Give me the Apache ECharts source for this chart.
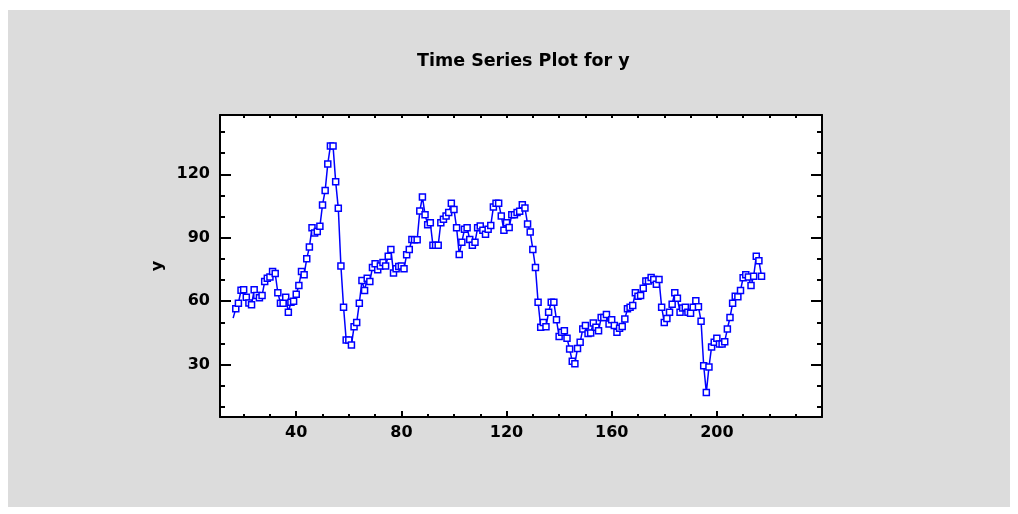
<!DOCTYPE html>
<html>
<head>
<meta charset="utf-8">
<script src="https://cdn.jsdelivr.net/npm/echarts@6/dist/echarts.min.js"></script>
<style>
  html, body { margin: 0; padding: 0; background: #ffffff; }
  #panel { position: absolute; left: 8px; top: 10px; width: 1002px; height: 497px; background: #dcdcdc; }
  #chart { position: absolute; left: 0; top: 0; width: 1018px; height: 514px; }
</style>
</head>
<body>
<div id="panel"></div>
<div id="chart"></div>
<script>
// ---- data ----
const titleText = 'Time Series Plot for y';
const yAxisName = 'y';
const xStart = 16;
const yValues = [
  52, 56.5, 59.1, 65.2, 65.4, 61.9, 59.2, 58.3, 65.4, 62.7,
  61.6, 62.7, 69.3, 70.9, 71.4, 74.1, 73.1, 64.0, 59.1, 59.1,
  61.9, 54.8, 59.5, 60.0,
  63.3, 67.4, 74.1, 72.5, 80.1, 85.6, 94.7, 92.2, 93.0, 95.4,
  105.5, 112.3, 124.9, 133.4, 133.4, 116.5, 103.9, 76.6, 57.2, 41.7,
  41.7, 39.3, 48.0, 50.0, 59.1, 69.8, 65.1,
  70.9, 69.3, 76.0, 77.7, 74.9, 76.6, 78.3, 76.6, 81.3, 84.5,
  73.4, 75.3, 76.4, 76.6, 75.3, 82.0, 84.5, 89.2, 89.0, 89.0,
  102.6, 109.3, 100.9, 96.2, 97.1, 86.4,
  86.4, 86.4, 97.1, 98.7, 100.3, 101.9, 106.3, 103.4, 94.7, 82.1,
  87.9, 94.0, 94.7, 89.2, 86.4, 87.9, 94.7, 95.5, 93.5, 91.7,
  94.0, 95.8, 104.5, 106.3, 106.3, 100.3, 93.5,
  97.1, 94.9, 100.9, 100.9, 101.9, 102.5, 105.6, 104.0, 96.5, 92.7,
  84.5, 76.0, 59.5, 47.7, 50.0, 48.0, 54.8, 59.5, 59.5, 51.2,
  43.3, 45.3, 46.1, 42.5, 37.4, 31.6,
  30.5, 37.7, 40.6, 46.9, 48.5, 44.7, 45.0, 49.7, 47.7, 46.0,
  52.3, 52.3, 53.7, 49.3, 51.2, 48.5, 45.3, 47.2, 48.1, 51.6,
  56.4, 57.2, 58.0, 64.0, 62.4,
  62.7, 66.1, 69.6, 69.6, 71.2, 70.3, 68.0, 70.3, 57.2, 50.0,
  51.9, 54.8, 58.6, 64.0, 61.4, 54.8, 56.8, 57.1, 54.8, 54.3,
  57.2, 60.2, 57.4, 50.5, 29.5, 16.9,
  28.9, 38.4, 40.6, 42.5, 39.8, 39.8, 40.9, 46.9, 52.3, 59.1,
  62.4, 62.1, 65.1, 71.1, 72.5, 71.5, 67.4, 71.8, 81.3, 79.1, 71.8
];
const xRange = [11, 240];
const yRange = [5.3, 148];
const xMajorTicks = [40, 80, 120, 160, 200];
const xMinorTicks = [20, 30, 50, 60, 70, 90, 100, 110, 130, 140, 150, 170, 180, 190, 210, 220, 230];
const yMajorTicks = [30, 60, 90, 120];
const yMinorTicks = [10, 20, 40, 50, 70, 80, 100, 110, 130, 140];

// ---- chart ----
const seriesData = yValues.map((v, i) => i === 0
  ? { value: [xStart + i, v], symbol: 'none' }
  : [xStart + i, v]);

const FONT = 'DejaVu Sans, Liberation Sans, Arial, sans-serif';
const lineBlack = { show: true, onZero: false, lineStyle: { color: '#000', width: 2 } };
const labelStyle = { color: '#000', fontWeight: 'bold', fontSize: 16, fontFamily: FONT };

function xAxisDef(pos, ticks, len, showLine, showLabel) {
  return {
    type: 'value', position: pos, min: xRange[0], max: xRange[1],
    axisLine: showLine ? lineBlack : { show: false },
    axisTick: { show: true, inside: true, length: len, customValues: ticks, lineStyle: { color: '#000', width: 2 } },
    axisLabel: showLabel ? Object.assign({ show: true, margin: 8, customValues: xMajorTicks }, labelStyle) : { show: false },
    splitLine: { show: false }
  };
}
function yAxisDef(pos, ticks, len, showLine, showLabel, withName) {
  const a = {
    type: 'value', position: pos, min: yRange[0], max: yRange[1],
    axisLine: showLine ? lineBlack : { show: false },
    axisTick: { show: true, inside: true, length: len, customValues: ticks, lineStyle: { color: '#000', width: 2 } },
    axisLabel: showLabel ? Object.assign({ show: true, margin: 10, customValues: yMajorTicks }, labelStyle) : { show: false },
    splitLine: { show: false }
  };
  if (withName) {
    a.name = yAxisName;
    a.nameLocation = 'middle';
    a.nameGap = 49;
    a.nameRotate = 90;
    a.nameTextStyle = { color: '#000', fontWeight: 'bold', fontSize: 16, fontFamily: FONT };
  }
  return a;
}

const chart = echarts.init(document.getElementById('chart'), null, { renderer: 'canvas' });
chart.setOption({
  backgroundColor: 'transparent',
  animation: false,
  title: {
    text: titleText, left: 412, top: 47,
    textStyle: { color: '#000', fontWeight: 'bold', fontSize: 17.5, fontFamily: FONT }
  },
  grid: { show: true, backgroundColor: '#ffffff', borderWidth: 0, left: 220, top: 115, width: 602, height: 302, containLabel: false },
  xAxis: [
    xAxisDef('bottom', xMajorTicks, 6, true, true),
    xAxisDef('bottom', xMinorTicks, 3, false, false),
    xAxisDef('top', xMajorTicks.concat(xMinorTicks), 3, true, false)
  ],
  yAxis: [
    yAxisDef('left', yMajorTicks, 11, true, true, true),
    yAxisDef('left', yMinorTicks, 5, false, false, false),
    yAxisDef('right', yMajorTicks, 11, true, false, false),
    yAxisDef('right', yMinorTicks, 5, false, false, false)
  ],
  series: [{
    type: 'line',
    xAxisIndex: 0, yAxisIndex: 0,
    data: seriesData,
    symbol: 'rect',
    symbolSize: 6,
    showAllSymbol: true,
    lineStyle: { color: '#0000ff', width: 1.5 },
    itemStyle: { color: '#ffffff', borderColor: '#0000ff', borderWidth: 1.5 },
    emphasis: { disabled: true },
    z: 3
  }]
});
</script>
</body>
</html>
